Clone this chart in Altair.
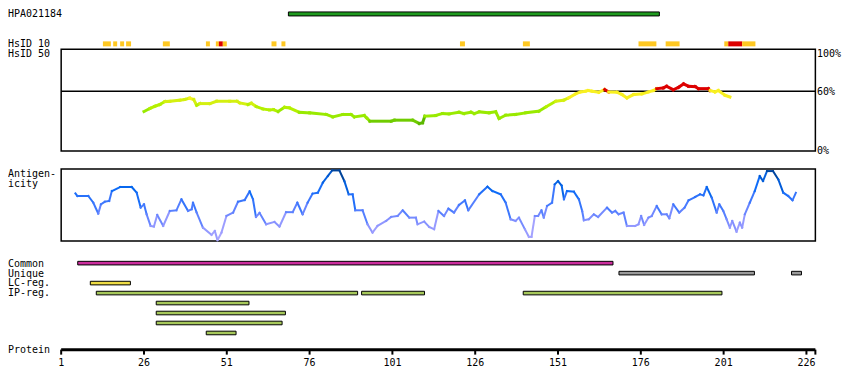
import altair as alt
import pandas as pd

# ---------------- data ----------------
tick_labels = [1, 26, 51, 76, 101, 126, 151, 176, 201, 226]
protein_start = [1]
protein_end = [228.7]

hpa_start = [69.6]
hpa_end = [181.6]

hsid10_start = [13.6, 16.7, 18.8, 20.6, 31.7, 44.7, 47.7, 48.6, 49.8, 64.5, 67.5,
                121.4, 140.4, 175.3, 183.5, 201.2, 202.4, 206.6]
hsid10_end = [16.0, 17.9, 20.0, 22.1, 33.8, 45.9, 48.6, 49.8, 51.0, 66.0, 68.7,
              122.9, 142.5, 180.7, 187.7, 202.4, 206.6, 210.6]
hsid10_level = ["mid", "mid", "mid", "mid", "mid", "mid", "mid", "high", "mid", "mid", "mid",
                "mid", "mid", "mid", "mid", "mid", "high", "mid"]

hsid50_res = [26, 27.8, 29.3, 30.8, 32.3, 33.8, 36.8, 38.3, 39.8, 41, 41.9, 42.9, 45.9, 47.9,
              51.9, 54.1, 54.9, 57.4, 58.4, 59.9, 61.9, 63.9, 65.1, 66.5, 68.4, 69.9, 72.9,
              76.0, 81, 83, 86, 88.5, 89.5, 92.5, 93.2, 94.2, 100.6, 101.6, 107.1, 109.1,
              110.1, 110.8, 114.1, 116.1, 118.1, 121.1, 122.6, 124.7, 125.7, 127.2, 130.2,
              132.2, 133.2, 135.2, 138.2, 141.2, 145.2, 147.3, 150.3, 152.7, 154.2, 156.3,
              157.8, 159.3, 160.1, 161.3, 163.3, 165.1, 166.3, 168.8, 170.3, 171.8, 173.8,
              176.3, 178.3, 179.8, 180.8, 182.8, 183.8, 185.8, 187.4, 188.9, 190.4, 192.4,
              193.4, 196.4, 196.9, 198.4, 199.4, 201.4, 202.9]
hsid50_pct = [38.9, 41.9, 44.1, 45.8, 48.7, 49, 50, 50.7, 52, 50.7, 45, 46.7, 46.7, 49,
              49, 49, 47.4, 45.8, 47, 43.8, 41.5, 40.5, 40.8, 38.9, 43.0, 42.5, 38.2,
              37.6, 36, 33.6, 36, 36, 33.6, 35, 32.7, 29.4, 29.4, 30.4, 30.4, 27.1,
              27.7, 34.3, 35, 36.9, 36.6, 38.2, 36.9, 38.2, 36.9, 38.6, 37.6,
              38.6, 32, 35.3, 36, 37.6, 39.2, 43.4, 49.0, 50, 52.3, 56.2,
              58.1, 58.8, 59.5, 58.8, 57.8, 60.5, 58.1, 57.8, 55.6, 52.3, 55.6,
              56.2, 58.1, 59.5, 61.4, 62.1, 63.7, 60.3, 62.7, 66, 63.7, 63.4,
              61.4, 61.4, 59.5, 58.1, 59.5, 54.9, 53.2]

antigen_res = [5.3, 5.9, 9.2, 10.7, 12.2, 13, 14.2, 15.5, 16.3, 18.8, 22.3, 23.8, 25, 26,
               26.8, 28, 29, 30, 31.8, 33.8, 35.8, 37.3, 39.3, 40.4, 40.8, 41.9, 43.8,
               46.4, 47.4, 48.2, 49.4, 50.9, 52.9, 54.4, 56.4, 57.9, 58.9, 59.8, 60.9,
               62.9, 65.4, 66.9, 68.9, 70.9, 72.3, 73.9, 75.4, 76.9, 78.5, 80, 81.5, 82.8,
               85, 86.5, 87.8, 89, 89.8, 92, 93.5, 95, 96.5, 99.1, 100.6, 102.6, 104.1,
               106.1, 108.1, 108.6, 110.6, 112.1, 113.6, 114.9, 116.6, 117.9, 119.6,
               121.1, 122.9, 123.9, 127.2, 129.7, 131.2, 133.7, 135.2, 136.7, 138.2,
               139.2, 141, 142.2, 143, 144, 145, 146, 146.7, 147.7, 149.2, 150, 151,
               152.1, 152.8, 153.7, 155.8, 157.3, 158.3, 158.8, 160.3, 161.8, 163.1,
               165.8, 167.3, 168.3, 169.3, 170.8, 171.8, 174.3, 175.3, 176.1, 177, 178.3,
               179.3, 180.8, 182.3, 183.8, 184.6, 185.8, 187.6, 189.2, 190.4, 192.4,
               193.9, 194.9, 195.9, 197.4, 198.9, 199.7, 200.9, 201.9, 202.9, 203.6,
               204.9, 205.9, 206.6, 207.4, 208.9, 210.4, 211.9, 212.9, 214.1, 215.9,
               217.5, 219, 220.5, 221.8, 222.8]
antigen_score = [66.2, 62.5, 62.5, 53.2, 38, 50.9, 54.6, 55.6, 69.4, 75, 75, 67.1, 46.3, 50.9,
                 37, 20.8, 19.9, 36.1, 20.8, 41.7, 42.6, 57.9, 41.7, 44, 53.2, 39.4, 18.5,
                 8.3, 13.9, 1, 11.6, 34.7, 39.4, 54.6, 56.9, 69, 58, 33.3, 39,
                 23.1, 26.4, 19.9, 40, 40, 53.2, 37, 53.2, 65.7, 67.1, 81, 90.3, 98.1,
                 98.1, 83.3, 64.8, 64.8, 42.6, 42.6, 23.1, 11.6, 20.8, 27.8, 33.3, 34.7, 42.6,
                 32.4, 32.4, 23.1, 26.9, 19.4, 16.2, 41.7, 34.7, 44.9, 39.4,
                 50, 56.5, 42.6, 64.8, 75.5, 69.4, 64.8, 53.2, 30.1, 27.8,
                 32.4, 16.2, 5.6, 5.6, 34.7, 34.7, 42.6, 32.4, 48.6, 53.2, 78.7, 83.3,
                 77, 57.9, 69.4, 68.5, 57.9, 41.7, 28.7, 30.1, 37, 33.3,
                 46.3, 39.4, 41.7, 37, 39.4, 20.8, 20.8, 23.1, 34.7, 22.2, 32.4,
                 34.7, 48.6, 37, 37, 31.5, 50.9, 39.4, 46.3, 56.5, 61.1,
                 64.8, 63.4, 75, 60.2, 39.4, 50.9, 41.7, 30.1, 18.5, 27.8,
                 12.9, 25.4, 18.5, 37, 53.2, 69.4, 90.3, 83.3, 97.2, 97.2,
                 85.6, 67.1, 62.5, 56.5, 67.1]

feature_row = [0, 1, 1, 2, 3, 3, 3, 4, 5, 6, 7]
feature_type = ["Common", "Unique", "Unique", "LC-reg.", "IP-reg.", "IP-reg.", "IP-reg.",
                "IP-reg.", "IP-reg.", "IP-reg.", "IP-reg."]
feature_start = [6.0, 169.4, 221.5, 9.8, 11.6, 91.7, 140.5, 29.7, 29.7, 29.7, 44.8]
feature_end = [167.6, 210.3, 224.5, 21.9, 90.5, 110.7, 200.5, 57.7, 68.7, 67.7, 53.8]

# ---------------- layout ----------------
W = 834
HA, HB, HC = 150, 90, 134
RES_PX = 3.3202
X0 = 1 - 53.3 / RES_PX
X1 = X0 + W / RES_PX
FONT = "DejaVu Sans Mono"
FS = 10


def xs():
    return alt.Scale(domain=[X0, X1], nice=False, zero=False)


def lin_scale(v_a, py_a, v_b, py_b, Hp):
    k = (py_a - py_b) / (v_b - v_a)
    d0 = v_a - (Hp - py_a) / k
    d1 = d0 + Hp / k
    if d0 > d1:
        return alt.Scale(domain=[d1, d0], nice=False, zero=False, reverse=True)
    return alt.Scale(domain=[d0, d1], nice=False, zero=False)


one = pd.DataFrame({"a": [0]})
span = pd.DataFrame({"s": protein_start, "e": protein_end})


def label(text, x, y, align="left"):
    return alt.Chart(one).mark_text(text=text, font=FONT, fontSize=FS, align=align,
                                    baseline="middle", color="black").encode(
        x=alt.value(x), y=alt.value(y))


def box(y0, y1):
    return alt.Chart(span).mark_rect(fillOpacity=0, stroke="black", strokeWidth=1.5).encode(
        x=alt.X("s:Q", scale=xs(), axis=None), x2="e:Q", y=alt.value(y0), y2=alt.value(y1))


def hline(y, sw):
    return alt.Chart(span).mark_rule(color="black", strokeWidth=sw).encode(
        x=alt.X("s:Q", scale=xs(), axis=None), x2="e:Q", y=alt.value(y))


# ---------- panel A: HPA antigen, HsID 10, HsID 50 ----------
A = []
hpa = pd.DataFrame({"s": hpa_start, "e": hpa_end})
A.append(alt.Chart(hpa).mark_rect(fill="#1f9a1f", stroke="black", strokeWidth=1).encode(
    x=alt.X("s:Q", scale=xs(), axis=None), x2="e:Q", y=alt.value(2.5), y2=alt.value(6.5)))

h10 = pd.DataFrame({"s": hsid10_start, "e": hsid10_end, "lvl": hsid10_level})
A.append(alt.Chart(h10).mark_rect().encode(
    x=alt.X("s:Q", scale=xs(), axis=None), x2="e:Q", y=alt.value(32), y2=alt.value(37),
    fill=alt.Fill("lvl:N", scale=alt.Scale(domain=["mid", "high"], range=["#ffc822", "#dd0000"]),
                  legend=None)))

A.append(box(40, 142))
A.append(hline(82, 1.5))

hs = pd.DataFrame({"res": hsid50_res, "pct": hsid50_pct})
hs["res2"] = hs["res"].shift(-1)
hs["pct2"] = hs["pct"].shift(-1)
hs = hs.dropna()
A.append(alt.Chart(hs).mark_rule(strokeWidth=3, strokeCap="square").encode(
    x=alt.X("res:Q", scale=xs(), axis=None), x2="res2:Q",
    y=alt.Y("pct:Q", scale=lin_scale(0, 142, 100, 40, HA), axis=None), y2="pct2:Q",
    color=alt.Color("pct:Q", legend=None, scale=alt.Scale(
        type="threshold", domain=[29, 32, 40, 46, 51, 60],
        range=["#5cb800", "#70cc00", "#99ea00", "#b4f000", "#d4f010", "#f8f020", "#dd0000"]))))

for txt, yy in [("HPA021184", 4.7), ("HsID 10", 34.3), ("HsID 50", 44.3)]:
    A.append(label(txt, 0, yy))
for txt, yy in [("100%", 44.7), ("60%", 82.7), ("0%", 142.3)]:
    A.append(label(txt, 811, yy))

panelA = alt.layer(*A).properties(width=W, height=HA)

# ---------- panel B: antigenicity ----------
B = [box(10, 82)]
ag = pd.DataFrame({"res": antigen_res, "v": antigen_score})
ag["res2"] = ag["res"].shift(-1)
ag["v2"] = ag["v"].shift(-1)
ag = ag.dropna()
B.append(alt.Chart(ag).mark_rule(strokeWidth=2, strokeCap="square").encode(
    x=alt.X("res:Q", scale=xs(), axis=None), x2="res2:Q",
    y=alt.Y("v:Q", scale=lin_scale(0, 82, 100, 10, HB), axis=None), y2="v2:Q",
    color=alt.Color("v:Q", legend=None, scale=alt.Scale(
        domain=[0, 25, 45, 70, 90, 100],
        range=["#aaa6ff", "#8a94ff", "#4a7cff", "#0a6cf8", "#0058d0", "#003f8f"]))))
B.append(label("Antigen-", 0, 14.5))
B.append(label("icity", 0, 24.5))
panelB = alt.layer(*B).properties(width=W, height=HB)

# ---------- panel C: features + protein axis ----------
C = []
ft = pd.DataFrame({"row": feature_row, "type": feature_type, "s": feature_start, "e": feature_end})
C.append(alt.Chart(ft).transform_calculate(
    r0="datum.row - 0.18", r1="datum.row + 0.18").mark_rect(stroke="black", strokeWidth=1).encode(
    x=alt.X("s:Q", scale=xs(), axis=None), x2="e:Q",
    y=alt.Y("r0:Q", scale=lin_scale(0, 14.3, 1, 24.3, HC), axis=None), y2="r1:Q",
    fill=alt.Fill("type:N", legend=None, scale=alt.Scale(
        domain=["Common", "Unique", "LC-reg.", "IP-reg."],
        range=["#cc2e9e", "#9a9a9a", "#eedc44", "#a6c85a"]))))
C.append(hline(101, 3))
tk = pd.DataFrame({"t": tick_labels + protein_end})
C.append(alt.Chart(tk).mark_rule(color="black", strokeWidth=2).encode(
    x=alt.X("t:Q", scale=xs(), axis=None), y=alt.value(101), y2=alt.value(106)))
tl = pd.DataFrame({"t": tick_labels})
C.append(alt.Chart(tl).mark_text(font=FONT, fontSize=FS, baseline="middle", color="black").encode(
    x=alt.X("t:Q", scale=xs(), axis=None), y=alt.value(114), text="t:Q"))
for txt, yy in [("Common", 14.7), ("Unique", 24.7), ("LC-reg.", 34.7), ("IP-reg.", 44.7),
                ("Protein", 101.5)]:
    C.append(label(txt, 0, yy))
panelC = alt.layer(*C).properties(width=W, height=HC)

chart = alt.vconcat(panelA, panelB, panelC, spacing=0, bounds="flush").resolve_scale(
    fill="independent", color="independent"
).properties(padding=0).configure_view(strokeWidth=0)

chart.save("out.html", embed_options={"renderer": "svg", "actions": False})
